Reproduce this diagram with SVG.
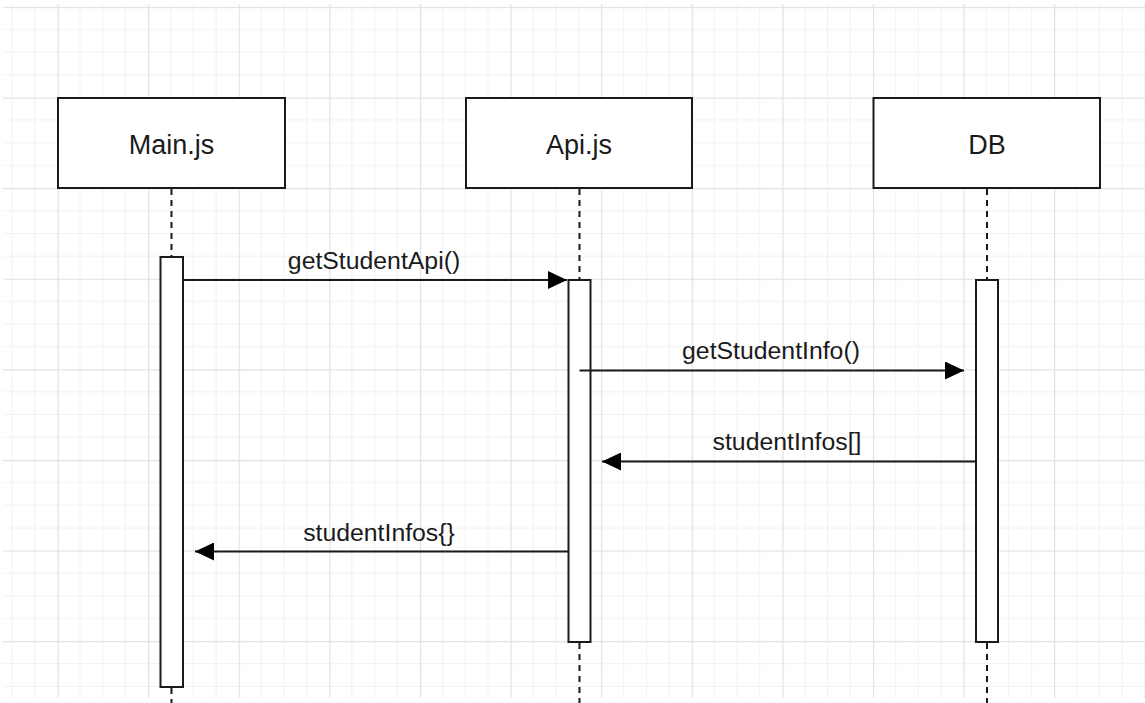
<svg xmlns="http://www.w3.org/2000/svg" width="1145" height="703" viewBox="0 0 1145 703">
  <style>
    .box { fill: #ffffff; stroke: #1a1a1a; stroke-width: 2; }
    .bar { fill: #ffffff; stroke: #1a1a1a; stroke-width: 2; }
    .life { stroke: #1a1a1a; stroke-width: 2; stroke-dasharray: 6 5; fill: none; }
    .msg { stroke: #1a1a1a; stroke-width: 2; fill: none; }
    .title { font-family: "Liberation Sans", Arial, sans-serif; font-size: 27px; fill: #1a1a1a; text-anchor: middle; }
    .label { font-family: "Liberation Sans", Arial, sans-serif; font-size: 24.8px; fill: #1a1a1a; text-anchor: middle; }
  </style>
  <defs>
    <pattern id="grid" patternUnits="userSpaceOnUse" x="57.5" y="97.5" width="90.6" height="90.6">
      <rect x="22.15" y="0" width="1" height="90.6" fill="#f1f1f1"/>
      <rect x="44.8" y="0" width="1" height="90.6" fill="#f1f1f1"/>
      <rect x="67.45" y="0" width="1" height="90.6" fill="#f1f1f1"/>
      <rect x="0" y="22.15" width="90.6" height="1" fill="#f1f1f1"/>
      <rect x="0" y="44.8" width="90.6" height="1" fill="#f1f1f1"/>
      <rect x="0" y="67.45" width="90.6" height="1" fill="#f1f1f1"/>
      <rect x="0" y="0" width="1.2" height="90.6" fill="#e0e0e0"/>
      <rect x="0" y="0" width="90.6" height="1.2" fill="#e0e0e0"/>
    </pattern>
    <marker id="arrow" viewBox="0 0 19 18" refX="19" refY="9" markerWidth="19" markerHeight="18" markerUnits="userSpaceOnUse" orient="auto">
      <path d="M0,0 L19,9 L0,18 Z" fill="#000000"/>
    </marker>
  </defs>
  <rect x="0" y="0" width="1145" height="703" fill="#ffffff"/>
  <rect x="3" y="4" width="1142" height="694" fill="url(#grid)"/>

  <g id="lifelines">
    <line class="life" x1="171.5" y1="189" x2="171.5" y2="257"/>
    <line class="life" x1="171.5" y1="688" x2="171.5" y2="703"/>
    <line class="life" x1="579.5" y1="189" x2="579.5" y2="280"/>
    <line class="life" x1="579.5" y1="643" x2="579.5" y2="703"/>
    <line class="life" x1="987" y1="189" x2="987" y2="280"/>
    <line class="life" x1="987" y1="643" x2="987" y2="703"/>
  </g>

  <g id="main">
    <rect class="box" x="58" y="98" width="227" height="90"/>
    <text class="title" x="171.5" y="154">Main.js</text>
    <rect class="bar" x="160.5" y="257" width="22.5" height="430"/>
  </g>
  <g id="api">
    <rect class="box" x="466" y="98" width="226" height="90"/>
    <text class="title" x="579" y="154">Api.js</text>
    <rect class="bar" x="568.5" y="280" width="22" height="362"/>
  </g>
  <g id="db">
    <rect class="box" x="873.5" y="98" width="226.5" height="90"/>
    <text class="title" x="987" y="154">DB</text>
    <rect class="bar" x="976" y="280" width="22" height="362"/>
  </g>

  <g id="connectors">
    <line class="msg" x1="183" y1="280" x2="567" y2="280" marker-end="url(#arrow)"/>
    <text class="label" x="374" y="269">getStudentApi()</text>
    <line class="msg" x1="579.5" y1="370.5" x2="964" y2="370.5" marker-end="url(#arrow)"/>
    <text class="label" x="771" y="359">getStudentInfo()</text>
    <line class="msg" x1="976" y1="461.5" x2="602" y2="461.5" marker-end="url(#arrow)"/>
    <text class="label" x="787" y="450">studentInfos[]</text>
    <line class="msg" x1="568.5" y1="551.5" x2="195" y2="551.5" marker-end="url(#arrow)"/>
    <text class="label" x="379" y="541">studentInfos{}</text>
  </g>
</svg>
